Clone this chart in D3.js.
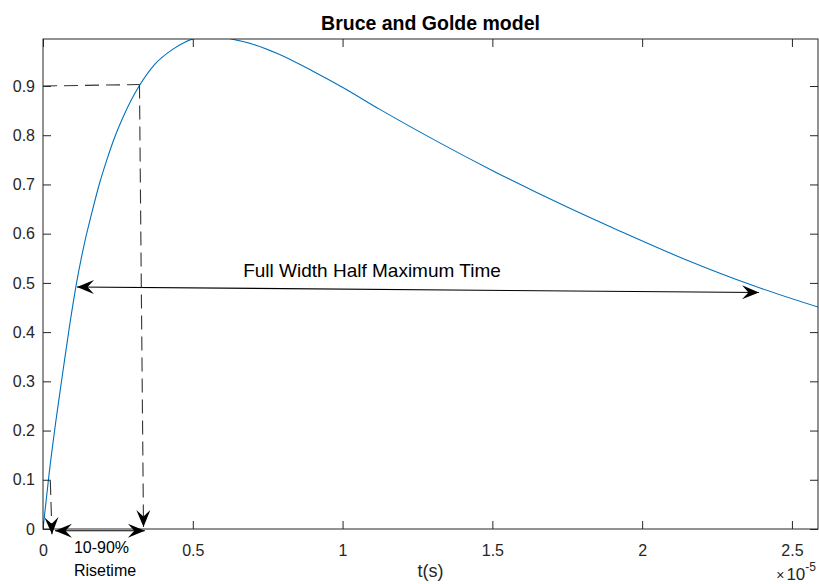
<!DOCTYPE html>
<html>
<head>
<meta charset="utf-8">
<script src="https://cdn.jsdelivr.net/npm/d3@7"></script>
<style>
  html, body { margin: 0; padding: 0; background: #fff; }
  svg { display: block; font-family: "Liberation Sans", Arial, Helvetica, sans-serif; }
</style>
</head>
<body>
<svg id="chart" width="819" height="584"></svg>
<script>
// ---- data (time in units of 1e-5 s, normalised current) ----
const timeE5 = [0, 0.020, 0.042, 0.066, 0.088, 0.112, 0.140, 0.162, 0.190, 0.212, 0.240, 0.266, 0.295, 0.321, 0.373, 0.434, 0.470, 0.500, 0.535, 0.565, 0.600, 0.629, 0.700, 0.790, 0.901, 0.998, 1.123, 1.323, 1.501, 1.746, 1.923, 2.146, 2.368, 2.587];
const current = [0, 0.110, 0.215, 0.318, 0.410, 0.500, 0.585, 0.640, 0.705, 0.748, 0.797, 0.835, 0.872, 0.900, 0.944, 0.975, 0.988, 0.9955, 0.999, 1.000, 0.999, 0.9955, 0.985, 0.964, 0.930, 0.898, 0.853, 0.785, 0.728, 0.655, 0.606, 0.547, 0.495, 0.451];

const xTicks = [0, 0.5, 1, 1.5, 2, 2.5];
const xTickLabels = ["0", "0.5", "1", "1.5", "2", "2.5"];
const yTicks = [0, 0.1, 0.2, 0.3, 0.4, 0.5, 0.6, 0.7, 0.8, 0.9];
const yTickLabels = ["0", "0.1", "0.2", "0.3", "0.4", "0.5", "0.6", "0.7", "0.8", "0.9"];

const titleText = "Bruce and Golde model";
const xLabelText = "t(s)";
const fwhmText = "Full Width Half Maximum Time";
const riseText1 = "10-90%";
const riseText2 = "Risetime";

// annotation anchor points in data coordinates
const fwhmArrow = [[0.1135, 0.4917], [2.390, 0.4805]];
const riseArrow = [[0.040, -0.0035], [0.340, -0.0035]];
const level90Line = [[0, 0.900], [0.322, 0.903]];
const drop90Arrow = [[0.322, 0.903], [0.3355, 0.004]];
const drop10Arrow = [[0.0244, 0.0975], [0.030, -0.0105]];

// ---- layout ----
const svg = d3.select("#chart");
const L = 43, R = 818, T = 39, B = 529;
const x = d3.scaleLinear().domain([0, 2.587]).range([L, R]);
const y = d3.scaleLinear().domain([0, 0.9955]).range([B, T]);
const axisColor = "#262626";
const tickLen = 8;

svg.append("rect").attr("width", 819).attr("height", 584).attr("fill", "#fff");

svg.append("defs").append("clipPath").attr("id", "clip")
  .append("rect").attr("x", L).attr("y", T).attr("width", R - L).attr("height", B - T);

// curve
const pts = timeE5.map((t, i) => [t, current[i]]);
svg.append("path")
  .attr("clip-path", "url(#clip)")
  .attr("d", d3.line().x(d => x(d[0])).y(d => y(d[1])).curve(d3.curveMonotoneX)(pts))
  .attr("fill", "none").attr("stroke", "#0072BD").attr("stroke-width", 1.1);

// axes (box with inward ticks)
function styleAxis(g) {
  g.select(".domain").remove();
  g.selectAll(".tick line").attr("stroke", axisColor);
  g.selectAll(".tick text").attr("fill", axisColor).attr("font-size", 16);
}
const xb = svg.append("g").attr("transform", `translate(0,${B})`)
  .call(d3.axisBottom(x).tickValues(xTicks).tickFormat((d, i) => xTickLabels[i]).tickSizeInner(-tickLen).tickSizeOuter(0).tickPadding(16));
styleAxis(xb);
const xt = svg.append("g").attr("transform", `translate(0,${T})`)
  .call(d3.axisTop(x).tickValues(xTicks).tickFormat("").tickSizeInner(-tickLen).tickSizeOuter(0));
styleAxis(xt);
const yl = svg.append("g").attr("transform", `translate(${L},0)`)
  .call(d3.axisLeft(y).tickValues(yTicks).tickFormat((d, i) => yTickLabels[i]).tickSizeInner(-tickLen).tickSizeOuter(0).tickPadding(16));
styleAxis(yl);
yl.selectAll(".tick text").attr("dx", 8);
const yr = svg.append("g").attr("transform", `translate(${R},0)`)
  .call(d3.axisRight(y).tickValues(yTicks).tickFormat("").tickSizeInner(-tickLen).tickSizeOuter(0));
styleAxis(yr);

svg.append("rect").attr("x", L).attr("y", T).attr("width", R - L).attr("height", B - T)
  .attr("fill", "none").attr("stroke", axisColor).attr("stroke-width", 1);

// exponent label
const ex = svg.append("text").attr("x", R - 2).attr("y", 580).attr("text-anchor", "end").attr("fill", axisColor);
ex.append("tspan").attr("font-size", 14).text("\u00D7");
ex.append("tspan").attr("font-size", 17).attr("dx", 2).text("10");
ex.append("tspan").attr("font-size", 12).attr("dy", -9).text("-5");

// title and axis label
svg.append("text").attr("x", (L + R) / 2).attr("y", 30).attr("text-anchor", "middle")
  .attr("font-size", 19.5).attr("font-weight", "bold").attr("fill", "#000").text(titleText);
svg.append("text").attr("x", (L + R) / 2).attr("y", 577).attr("text-anchor", "middle")
  .attr("font-size", 18).attr("fill", axisColor).text(xLabelText);

// annotations
function px(p) { return [x(p[0]), y(p[1])]; }
function head(tip, from) {
  const dx = tip[0] - from[0], dy = tip[1] - from[1];
  const len = Math.hypot(dx, dy);
  const ux = dx / len, uy = dy / len, nx = -uy, ny = ux;
  const Lh = 17, W = 14;
  const p = [
    tip,
    [tip[0] - Lh * ux + W / 2 * nx, tip[1] - Lh * uy + W / 2 * ny],
    [tip[0] - 0.62 * Lh * ux, tip[1] - 0.62 * Lh * uy],
    [tip[0] - Lh * ux - W / 2 * nx, tip[1] - Lh * uy - W / 2 * ny]
  ];
  svg.append("path").attr("d", "M" + p.map(q => q.join(",")).join("L") + "Z").attr("fill", "#000");
}
function line(a, b, dashed) {
  svg.append("line").attr("x1", a[0]).attr("y1", a[1]).attr("x2", b[0]).attr("y2", b[1])
    .attr("stroke", dashed ? "#333" : "#000").attr("stroke-width", 1.1)
    .attr("stroke-dasharray", dashed ? "14,7" : null);
}

// FWHM double arrow
{
  const a = px(fwhmArrow[0]), b = px(fwhmArrow[1]);
  line(a, b, false); head(a, b); head(b, a);
}
// rise double arrow
{
  const a = px(riseArrow[0]), b = px(riseArrow[1]);
  line(a, b, false); head(a, b); head(b, a);
}
// 90% / 10% dashed guides
line(px(level90Line[0]), px(level90Line[1]), true);
{
  const a = px(drop90Arrow[0]), b = px(drop90Arrow[1]);
  line(a, b, true); head(b, a);
}
{
  const a = px(drop10Arrow[0]), b = px(drop10Arrow[1]);
  line(a, b, true); head(b, a);
}

svg.append("text").attr("x", 372).attr("y", 277).attr("text-anchor", "middle")
  .attr("font-size", 19).attr("fill", "#000").text(fwhmText);
svg.append("text").attr("x", 101.5).attr("y", 553).attr("text-anchor", "middle")
  .attr("font-size", 16).attr("fill", "#000").text(riseText1);
svg.append("text").attr("x", 105).attr("y", 576).attr("text-anchor", "middle")
  .attr("font-size", 16).attr("fill", "#000").text(riseText2);
</script>
</body>
</html>
